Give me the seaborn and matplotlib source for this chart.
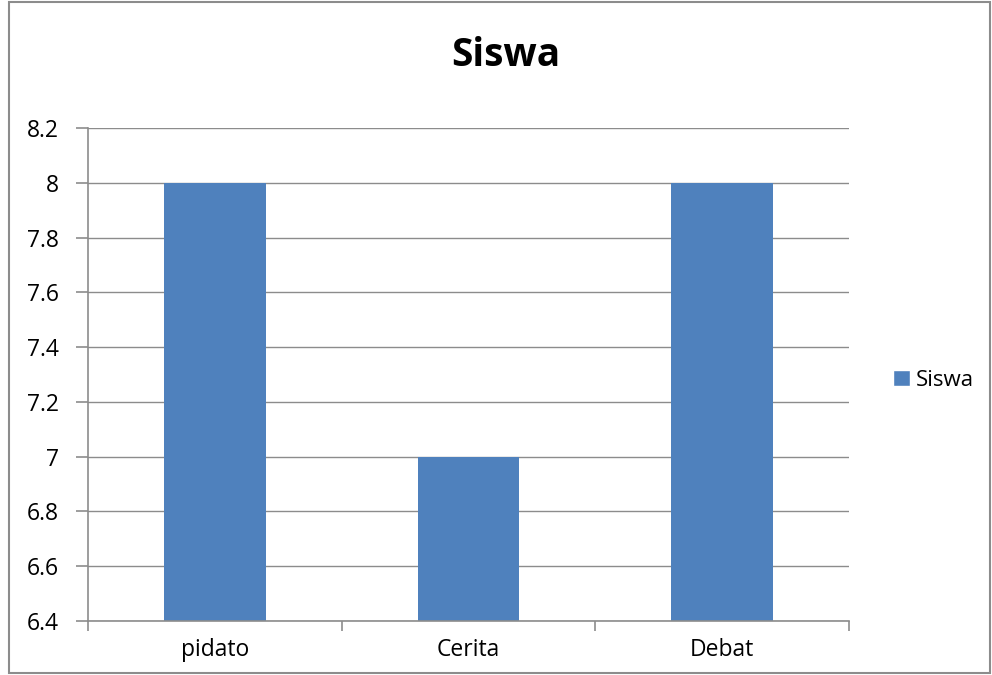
import matplotlib
matplotlib.use("Agg")
import matplotlib.pyplot as plt
from matplotlib.patches import Rectangle
import seaborn as sns
import pandas as pd

categories = ["pidato", "Cerita", "Debat"]
values = [8, 7, 8]
series_name = "Siswa"
yticks = [6.4, 6.6, 6.8, 7.0, 7.2, 7.4, 7.6, 7.8, 8.0, 8.2]
ytick_labels = ["6.4", "6.6", "6.8", "7", "7.2", "7.4", "7.6", "7.8", "8", "8.2"]

sns.set_style("white")
plt.rcParams["font.family"] = ["Open Sans", "DejaVu Sans"]
plt.rcParams["text.color"] = "black"

df = pd.DataFrame({"kategori": categories, "nilai": values, "seri": series_name})

fig = plt.figure(figsize=(9.92, 6.75), dpi=100)
ax = fig.add_axes([0.0887, 0.08, 0.7671, 0.7304])

bar_color = "#4f81bd"
sns.barplot(data=df, x="kategori", y="nilai", hue="seri", palette=[bar_color],
            width=0.4, ax=ax, legend=False, saturation=1, linewidth=0)

ax.set_ylim(6.4, 8.2)
ax.set_xlim(-0.5, 2.5)
ax.set_yticks(yticks)
ax.set_yticklabels(ytick_labels)
ax.set_xlabel("")
ax.set_ylabel("")

# grid lines
ax.set_axisbelow(True)
ax.yaxis.grid(True, color="#8c8c8c", linewidth=1)
ax.xaxis.grid(False)

for side in ["top", "right"]:
    ax.spines[side].set_visible(False)
for side in ["left", "bottom"]:
    ax.spines[side].set_color("#8c8c8c")
    ax.spines[side].set_linewidth(1.2)

# x ticks at category boundaries, labels centred under bars
ax.set_xticks([-0.5, 0.5, 1.5, 2.5])
ax.set_xticklabels([])
ax.set_xticks([0, 1, 2], minor=True)
ax.set_xticklabels(categories, minor=True)
ax.tick_params(axis="x", which="major", bottom=True, length=7, color="#8c8c8c",
               width=1.2, direction="out")
ax.tick_params(axis="x", which="minor", bottom=False, length=0, labelsize=16.5,
               pad=12, labelcolor="black")
ax.tick_params(axis="y", left=True, length=9, color="#8c8c8c", width=1.2, direction="out",
               labelsize=16.5, pad=12, labelcolor="black")

fig.text(0.51, 0.918, "Siswa", ha="center", va="center", fontsize=28,
         fontweight="bold", color="black")

handle = Rectangle((0, 0), 1, 1, facecolor=bar_color)
fig.legend([handle], [series_name], loc="center left", bbox_to_anchor=(0.88, 0.437),
           frameon=False, fontsize=16, handlelength=0.75, handleheight=0.75,
           handletextpad=0.3, labelcolor="black")

# outer border
fig.patches.append(Rectangle((0.009, 0.003), 0.989, 0.994, transform=fig.transFigure,
                             fill=False, edgecolor="#8c8c8c", linewidth=1.5))

fig.savefig("out.png", dpi=100)
